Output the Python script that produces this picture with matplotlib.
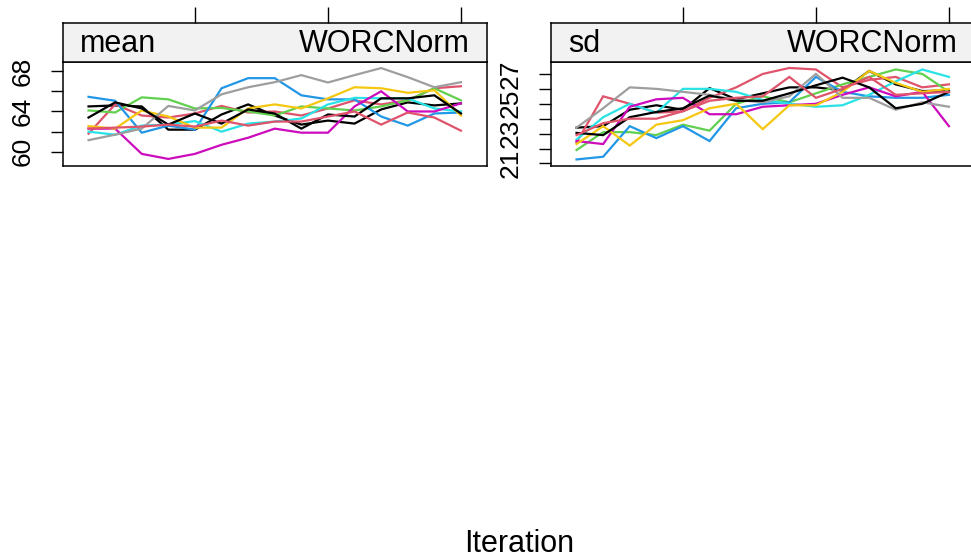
import matplotlib
matplotlib.use("Agg")
import matplotlib.pyplot as plt
import numpy as np

plt.rcParams["font.family"] = ["Liberation Sans", "DejaVu Sans"]

iterations = np.arange(1, 16)
variable = "WORCNorm"
statistics = ["mean", "sd"]

# chain colours (R default palette, recycled over 10 imputations)
chain_colors = ["black", "#DF536B", "#61D04F", "#2297E6", "#28E2E5",
                "#CD0BBC", "#F5C710", "#9E9E9E", "black", "#DF536B"]

mean_chains = [
    [64.5, 64.6, 64.5, 62.2, 62.2, 63.7, 64.7, 63.6, 62.7, 63.1, 62.8, 64.2, 64.9, 64.6, 64.8],
    [61.8, 64.7, 63.6, 63.4, 63.8, 64.55, 63.9, 64.0, 63.6, 64.3, 65.1, 64.7, 65.1, 66.3, 66.5],
    [64.1, 63.9, 65.4, 65.2, 64.3, 64.35, 64.0, 63.6, 64.5, 64.3, 64.1, 64.5, 65.1, 66.3, 65.1],
    [65.45, 65.06, 61.9, 62.6, 62.2, 66.3, 67.3, 67.3, 65.6, 65.2, 65.2, 63.5, 62.6, 63.8, 63.9],
    [62.0, 61.7, 62.6, 62.7, 63.05, 62.0, 62.8, 63.0, 63.3, 64.7, 65.35, 65.3, 65.3, 64.3, 64.0],
    [62.3, 62.3, 59.8, 59.3, 59.8, 60.7, 61.4, 62.3, 61.9, 61.9, 64.5, 66.0, 64.0, 64.0, 64.8],
    [62.55, 62.3, 64.1, 63.5, 62.4, 62.4, 64.3, 64.7, 64.3, 65.3, 66.4, 66.3, 65.85, 66.1, 63.6],
    [61.16, 61.7, 62.3, 64.55, 64.1, 65.7, 66.4, 66.9, 67.6, 66.87, 67.6, 68.3, 67.4, 66.4, 66.9],
    [63.4, 64.9, 64.3, 62.7, 63.8, 62.8, 64.2, 63.8, 62.3, 63.7, 63.5, 65.3, 65.3, 65.6, 63.8],
    [62.3, 62.4, 62.5, 62.7, 62.5, 63.1, 62.6, 63.0, 63.0, 63.5, 64.0, 62.7, 63.9, 63.4, 62.1],
]

sd_chains = [
    [23.4, 23.5, 24.6, 24.9, 24.6, 26.05, 25.3, 25.7, 26.1, 26.1, 25.9, 27.2, 26.3, 25.85, 25.9],
    [22.4, 25.5, 25.0, 24.4, 24.5, 25.4, 26.1, 27.0, 27.4, 27.3, 26.1, 26.6, 26.8, 26.1, 26.3],
    [21.9, 23.1, 23.1, 22.9, 23.6, 23.2, 25.0, 25.5, 25.1, 25.7, 26.3, 26.8, 27.3, 27.0, 25.8],
    [21.27, 21.45, 23.5, 22.7, 23.5, 22.5, 24.7, 25.0, 25.1, 26.8, 25.8, 25.5, 25.4, 25.4, 25.6],
    [22.6, 24.1, 25.0, 24.4, 26.0, 26.0, 25.8, 25.25, 25.0, 24.8, 24.9, 25.6, 26.5, 27.3, 26.8],
    [22.5, 22.3, 24.8, 25.3, 25.4, 24.3, 24.3, 24.8, 24.9, 25.0, 25.6, 26.1, 25.5, 25.8, 23.5],
    [22.3, 23.5, 22.2, 23.6, 23.9, 24.7, 25.0, 23.3, 24.9, 24.9, 25.8, 27.2, 26.4, 25.8, 26.0],
    [23.4, 24.7, 26.1, 26.0, 25.8, 25.6, 25.25, 25.1, 25.5, 27.0, 25.4, 25.4, 24.6, 25.1, 24.8],
    [23.05, 22.9, 24.1, 24.45, 24.7, 25.55, 25.2, 25.2, 25.7, 26.24, 26.75, 26.1, 24.7, 25.0, 25.8],
    [22.9, 23.7, 24.0, 24.0, 24.5, 25.2, 25.4, 25.5, 26.8, 25.4, 26.0, 26.8, 25.6, 25.7, 25.8],
]

x_ticks = [5, 10, 15]
mean_ticks = [60, 62, 64, 66, 68]
mean_labels = ["60", "", "64", "", "68"]
sd_ticks = [21, 22, 23, 24, 25, 26, 27]
sd_labels = ["21", "", "23", "", "25", "", "27"]

W, H = 971, 560
fig = plt.figure(figsize=(W / 100, H / 100), dpi=100)

panels = [
    dict(stat="mean", chains=mean_chains, left=63, ylim=(58.6, 68.9),
         ticks=mean_ticks, labels=mean_labels),
    dict(stat="sd", chains=sd_chains, left=551, ylim=(20.83, 27.8),
         ticks=sd_ticks, labels=sd_labels),
]

pw = 424
plot_top, plot_bot = 62, 166
strip_top = 23
xlim = (0.04, 15.98)

for p in panels:
    ax = fig.add_axes([p["left"] / W, 1 - plot_bot / H, pw / W, (plot_bot - plot_top) / H])
    for vals, col in zip(p["chains"], chain_colors):
        ax.plot(iterations, vals, color=col, lw=1.6, solid_joinstyle="miter")
    ax.set_xlim(*xlim)
    ax.set_ylim(*p["ylim"])
    ax.set_xticks([])
    ax.set_yticks(p["ticks"])
    ax.set_yticklabels(p["labels"])
    ax.tick_params(axis="y", direction="out", length=8.4, width=1.0,
                   pad=12, labelsize=19, labelrotation=90)
    for lab in ax.get_yticklabels():
        lab.set_verticalalignment("center")
    for s in ax.spines.values():
        s.set_linewidth(1.1)

    sax = fig.add_axes([p["left"] / W, 1 - plot_top / H, pw / W, (plot_top - strip_top) / H])
    sax.set_facecolor("#F2F2F2")
    sax.set_xlim(*xlim)
    sax.set_ylim(0, 1)
    sax.set_yticks([])
    sax.set_xticks(x_ticks)
    sax.set_xticklabels([])
    sax.tick_params(axis="x", bottom=False, top=True, direction="out",
                    length=11.5, width=1.0)
    for s in sax.spines.values():
        s.set_linewidth(1.1)
    sax.text(17 / pw, 0.45, p["stat"], transform=sax.transAxes, ha="left",
             va="center", fontsize=22)
    sax.text(1 - 17 / pw, 0.45, variable, transform=sax.transAxes, ha="right",
             va="center", fontsize=22)

fig.text(519 / W, 1 - 544 / H, "Iteration", ha="center", va="center", fontsize=22)

fig.savefig("out.png", dpi=100)
